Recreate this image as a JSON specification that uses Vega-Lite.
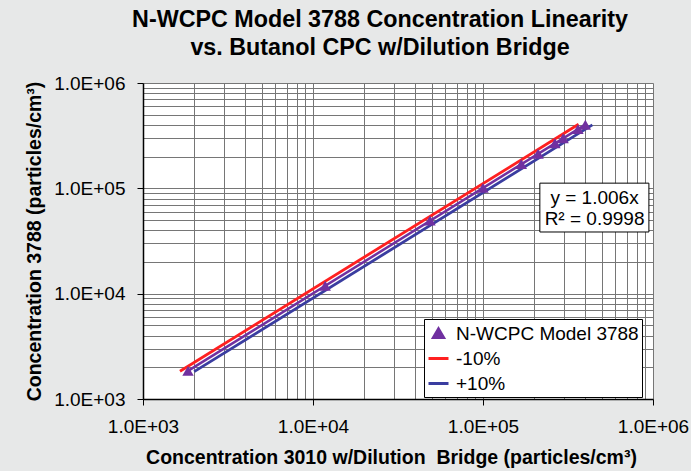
{
  "$schema": "https://vega.github.io/schema/vega-lite/v6.json",
  "width": 510,
  "height": 316,
  "autosize": {"type": "none"},
  "padding": {"left": 143, "top": 83, "right": 38, "bottom": 72},
  "background": "#e7e8e8",
  "config": {
    "font": "Liberation Sans",
    "view": {"fill": "white", "stroke": null}
  },
  "title": {
    "text": ["N-WCPC Model 3788 Concentration Linearity", "vs. Butanol CPC w/Dilution Bridge"],
    "fontSize": 23.3,
    "fontWeight": "bold",
    "font": "Liberation Sans",
    "color": "#000000",
    "lineHeight": 28,
    "anchor": "middle",
    "frame": "group",
    "dx": -18,
    "offset": 14
  },
  "datasets": {
    "points": [
      {"series": "N-WCPC Model 3788", "x": 1840, "y": 1850},
      {"series": "N-WCPC Model 3788", "x": 11800, "y": 11900},
      {"series": "N-WCPC Model 3788", "x": 48800, "y": 49500},
      {"series": "N-WCPC Model 3788", "x": 100000, "y": 101000},
      {"series": "N-WCPC Model 3788", "x": 168000, "y": 170000},
      {"series": "N-WCPC Model 3788", "x": 211000, "y": 213000},
      {"series": "N-WCPC Model 3788", "x": 265000, "y": 268000},
      {"series": "N-WCPC Model 3788", "x": 296000, "y": 299000},
      {"series": "N-WCPC Model 3788", "x": 362000, "y": 365000},
      {"series": "N-WCPC Model 3788", "x": 400000, "y": 402000}
    ],
    "bounds": [
      {"series": "-10%", "x": 1650, "y": 1833},
      {"series": "-10%", "x": 365000, "y": 405500},
      {"series": "+10%", "x": 2000, "y": 1818},
      {"series": "+10%", "x": 440000, "y": 400000}
    ],
    "trend": [
      {"x": 1840, "y": 1851},
      {"x": 400000, "y": 402400}
    ],
    "box": [
      {"x": 216000, "x2": 946000, "y": 38500, "y2": 112000}
    ],
    "eq": [
      {"label": "y = 1.006x", "x": 453000, "y": 81100},
      {"label": "R² = 0.9998", "x": 453000, "y": 51200}
    ]
  },
  "layer": [
    {
      "data": {"name": "bounds"},
      "mark": {"type": "line", "strokeWidth": 2.8},
      "encoding": {
        "x": {
          "field": "x",
          "type": "quantitative",
          "scale": {"type": "log", "domain": [1000, 1000000], "nice": false},
          "axis": {
            "values": [1000, 2000, 3000, 4000, 5000, 6000, 7000, 8000, 9000, 10000, 20000, 30000, 40000, 50000, 60000, 70000, 80000, 90000, 100000, 200000, 300000, 400000, 500000, 600000, 700000, 800000, 900000, 1000000],
            "labelExpr": "datum.value == 1000 ? '1.0E+03' : datum.value == 10000 ? '1.0E+04' : datum.value == 100000 ? '1.0E+05' : datum.value == 1000000 ? '1.0E+06' : ''",
            "labelOverlap": false,
            "labelFlush": false,
            "labelFontSize": 19,
            "labelColor": "#000000",
            "labelPadding": 12,
            "tickSize": 6,
            "tickColor": "#000000",
            "tickOpacity": {"condition": {"test": "datum.value == 1000 || datum.value == 10000 || datum.value == 100000 || datum.value == 1000000", "value": 1}, "value": 0},
            "grid": true,
            "gridColor": "#767676",
            "gridWidth": 1,
            "domainColor": "#000000",
            "domainWidth": 1.5,
            "title": "Concentration 3010 w/Dilution\u00a0 Bridge (particles/cm³)",
            "titleFontSize": 19.5,
            "titleFontWeight": "bold",
            "titleColor": "#000000",
            "titlePadding": 12,
            "titleX": 248
          }
        },
        "y": {
          "field": "y",
          "type": "quantitative",
          "scale": {"type": "log", "domain": [1000, 1000000], "nice": false},
          "axis": {
            "values": [1000, 2000, 3000, 4000, 5000, 6000, 7000, 8000, 9000, 10000, 20000, 30000, 40000, 50000, 60000, 70000, 80000, 90000, 100000, 200000, 300000, 400000, 500000, 600000, 700000, 800000, 900000, 1000000],
            "labelExpr": "datum.value == 1000 ? '1.0E+03' : datum.value == 10000 ? '1.0E+04' : datum.value == 100000 ? '1.0E+05' : datum.value == 1000000 ? '1.0E+06' : ''",
            "labelOverlap": false,
            "labelFlush": false,
            "labelFontSize": 19,
            "labelColor": "#000000",
            "labelPadding": 12,
            "tickSize": 6,
            "tickColor": "#000000",
            "tickOpacity": {"condition": {"test": "datum.value == 1000 || datum.value == 10000 || datum.value == 100000 || datum.value == 1000000", "value": 1}, "value": 0},
            "grid": true,
            "gridColor": "#767676",
            "gridWidth": 1,
            "domainColor": "#000000",
            "domainWidth": 1.5,
            "title": "Concentration 3788 (particles/cm³)",
            "titleFontSize": 19.5,
            "titleFontWeight": "bold",
            "titleColor": "#000000",
            "titlePadding": 9
          }
        },
        "color": {
          "field": "series",
          "type": "nominal",
          "scale": {"domain": ["N-WCPC Model 3788", "-10%", "+10%"], "range": ["#7030a0", "#ff2020", "#3a3da0"]},
          "legend": {
            "title": null,
            "orient": "none",
            "legendX": 281,
            "legendY": 236,
            "padding": 3,
            "fillColor": "#ffffff",
            "strokeColor": "#000000",
            "labelFontSize": 19,
            "labelColor": "#000000",
            "labelFont": "Liberation Sans",
            "labelOffset": 6,
            "labelLimit": 400,
            "symbolSize": 400,
            "symbolType": "stroke",
            "symbolStrokeWidth": 3,
            "rowPadding": 3,
            "encode": {
              "symbols": {
                "update": {
                  "shape": {"signal": "datum.value === 'N-WCPC Model 3788' ? 'M0,-0.45L0.5,0.4L-0.5,0.4Z' : 'stroke'"},
                  "fill": {"signal": "datum.value === 'N-WCPC Model 3788' ? '#7030a0' : 'transparent'"},
                  "stroke": {"signal": "datum.value === 'N-WCPC Model 3788' ? 'transparent' : (datum.value === '-10%' ? '#ff2020' : '#3a3da0')"},
                  "strokeWidth": {"value": 3},
                  "opacity": {"value": 1}
                }
              }
            }
          }
        }
      }
    },
    {
      "data": {"name": "trend"},
      "mark": {"type": "line", "strokeWidth": 2.5, "color": "#7030a0"},
      "encoding": {
        "x": {"field": "x", "type": "quantitative"},
        "y": {"field": "y", "type": "quantitative"}
      }
    },
    {
      "data": {"name": "points"},
      "mark": {"type": "point", "shape": "triangle-up", "filled": true, "size": 130, "opacity": 1},
      "encoding": {
        "x": {"field": "x", "type": "quantitative"},
        "y": {"field": "y", "type": "quantitative"},
        "color": {"field": "series", "type": "nominal"}
      }
    },
    {
      "data": {"name": "box"},
      "mark": {"type": "rect", "fill": "#ffffff", "stroke": "#000000", "strokeWidth": 1},
      "encoding": {
        "x": {"field": "x", "type": "quantitative"},
        "x2": {"field": "x2"},
        "y": {"field": "y", "type": "quantitative"},
        "y2": {"field": "y2"}
      }
    },
    {
      "data": {"name": "eq"},
      "mark": {"type": "text", "fontSize": 19, "color": "#000000", "align": "center", "baseline": "middle", "font": "Liberation Sans"},
      "encoding": {
        "x": {"field": "x", "type": "quantitative"},
        "y": {"field": "y", "type": "quantitative"},
        "text": {"field": "label"}
      }
    }
  ]
}
